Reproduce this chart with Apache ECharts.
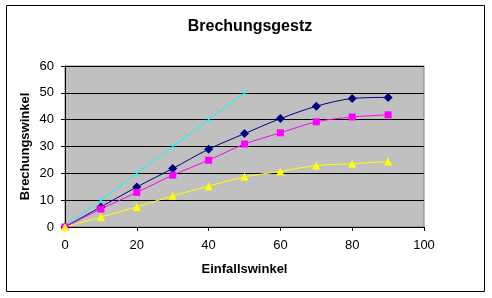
<!DOCTYPE html>
<html><head><meta charset="utf-8">
<script src="https://cdn.jsdelivr.net/npm/echarts@6/dist/echarts.min.js"></script>
<style>html,body{margin:0;padding:0;background:#fff}#c{width:492px;height:298px}</style>
</head><body><div id="c"></div>
<script>
const xValues = [0, 10, 20, 30, 40, 50, 60, 70, 80, 90];
const cyanValues = [0, 10, 20, 30, 40, 50];
const navyValues = [0, 7.5, 14.9, 21.8, 29.0, 34.8, 40.4, 45.0, 47.9, 48.3];
const magentaValues = [0, 6.7, 12.9, 19.3, 24.9, 30.9, 35.1, 39.2, 41.0, 41.8];
const yellowValues = [0, 3.7, 7.5, 11.6, 15.2, 18.7, 20.7, 22.9, 23.6, 24.4];
const xTicks = [0, 20, 40, 60, 80, 100];
const yTicks = [0, 10, 20, 30, 40, 50, 60];

function pairs(vals){ return vals.map((v,i)=>[xValues[i], v]); }
const font = 'Liberation Sans, Arial, sans-serif';
const chart = echarts.init(document.getElementById('c'), null, {renderer:'canvas'});
chart.setOption({
  animation: false,
  backgroundColor: '#fff',
  title: { text: 'Brechungsgestz', left: 245, top: 14, textAlign: 'center',
    textStyle: { fontFamily: font, fontSize: 16, fontWeight: 'bold', color: '#000' } },
  graphic: [{ type: 'rect', shape: { x: 6.5, y: 5.5, width: 478, height: 286 },
    style: { fill: 'none', stroke: '#000', lineWidth: 1 }, z: 100 }],
  grid: { left: 65, right: 68, top: 66, bottom: 71, show: true, backgroundColor: '#C0C0C0',
    borderColor: '#808080', borderWidth: 1 },
  xAxis: { type: 'value', min: 0, max: 100, interval: 20,
    name: 'Einfallswinkel', nameLocation: 'middle', nameGap: 36, nameMoveOverlap: false,
    nameTextStyle: { fontFamily: font, fontSize: 13, fontWeight: 'bold', color: '#000' },
    axisLine: { lineStyle: { color: '#000', width: 1 } },
    axisTick: { show: true, length: 4, inside: false, lineStyle: { color: '#000' } },
    axisLabel: { fontFamily: font, fontSize: 13, color: '#000', margin: 12,
      formatter: v => xTicks.includes(v) ? String(v) : '' },
    splitLine: { show: false } },
  yAxis: { type: 'value', min: 0, max: 60, interval: 10,
    name: 'Brechungswinkel', nameLocation: 'middle', nameGap: 33, nameMoveOverlap: false,
    nameTextStyle: { fontFamily: font, fontSize: 13, fontWeight: 'bold', color: '#000' },
    axisLine: { show: true, lineStyle: { color: '#000', width: 1 } },
    axisTick: { show: true, length: 4, lineStyle: { color: '#000' } },
    axisLabel: { fontFamily: font, fontSize: 13, color: '#000', margin: 11,
      formatter: v => yTicks.includes(v) ? String(v) : '' },
    splitLine: { show: true, lineStyle: { color: '#000', width: 1 } } },
  series: [
    { type: 'line', data: pairs(cyanValues), smooth: 0.3,
      symbol: 'path://M0,0L10,10M10,0L0,10', symbolSize: 6,
      lineStyle: { color: '#00FFFF', width: 1 },
      itemStyle: { color: '#00FFFF', borderColor: '#00FFFF', borderWidth: 1 } },
    { type: 'line', data: pairs(navyValues), smooth: 0.3,
      symbol: 'diamond', symbolSize: 9,
      lineStyle: { color: '#000080', width: 1 },
      itemStyle: { color: '#000080' } },
    { type: 'line', data: pairs(magentaValues), smooth: 0.3,
      symbol: 'rect', symbolSize: 7,
      lineStyle: { color: '#FF00FF', width: 1 },
      itemStyle: { color: '#FF00FF' } },
    { type: 'line', data: pairs(yellowValues), smooth: 0.3,
      symbol: 'triangle', symbolSize: 8,
      lineStyle: { color: '#FFFF00', width: 1 },
      itemStyle: { color: '#FFFF00' } }
  ]
});
</script></body></html>
